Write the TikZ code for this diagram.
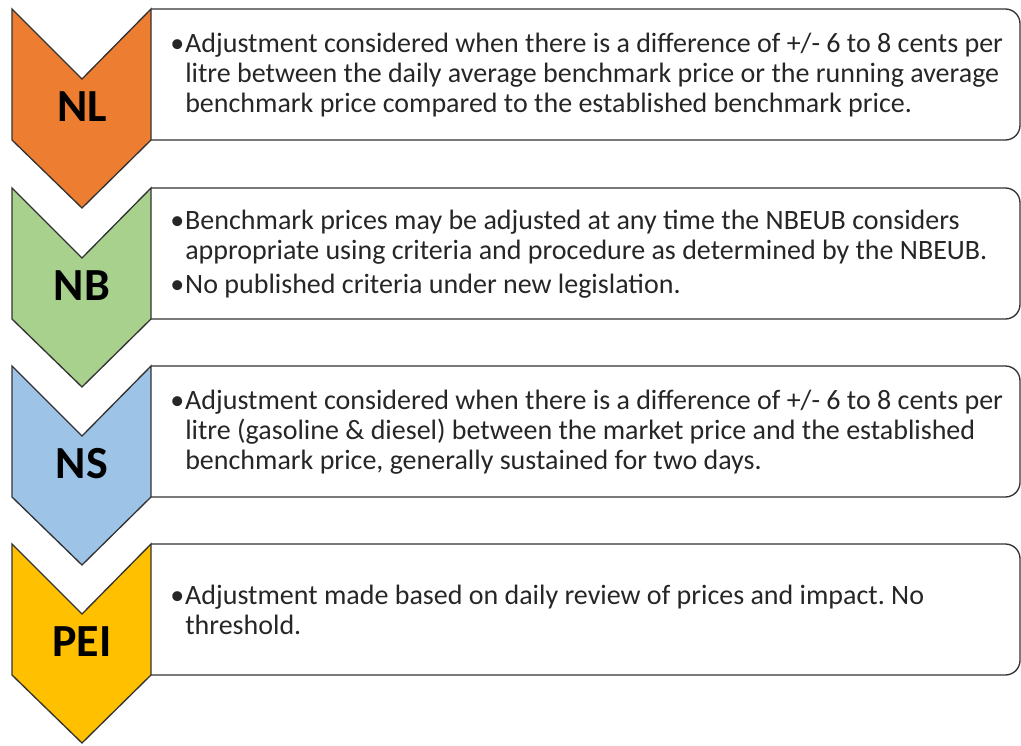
\documentclass[tikz,border=0pt]{standalone}
\usepackage{fontspec}
\setmainfont{Carlito}
\frenchspacing
\definecolor{nlorange}{HTML}{ED7D31}
\definecolor{nbgreen}{HTML}{A9D18E}
\definecolor{nsblue}{HTML}{9DC3E6}
\definecolor{peigold}{HTML}{FFC000}
\newcommand{\bul}{\makebox[10.5pt][l]{\hspace{-0.75pt}\textbullet}}
\newcommand{\ind}{\hspace*{10.5pt}}
\tikzset{
	chev/.style={draw=black!80, line width=1pt, line join=miter},
	infobox/.style={draw=black!80, line width=1pt, rounded corners=11pt},
	lbl/.style={font=\bfseries\fontsize{34.5}{40}\selectfont, text=black},
	txt/.style={anchor=west, align=left, inner sep=0pt, text=black!85,
		font=\fontsize{21}{22.5}\selectfont}
}
\begin{document}
\begin{tikzpicture}[x=0.75pt, y=-0.75pt]
	\useasboundingbox (0,0) rectangle (1021,746);
	% NL
	\draw[chev, fill=nlorange] (12,9) -- (82,79) -- (151,9) -- (151,140) -- (82,208) -- (12,140) -- cycle;
	\draw[infobox] (151,9) -- (1020,9) -- (1020,140) -- (151,140);
	\node (NL) at (82,107) [lbl] {NL};
	\node (NLtext) at (171,75) [txt] {\bul Adjustment considered when there is a difference of +/- 6 to 8 cents per\\
		\ind litre between the daily average benchmark price or the running average\\
		\ind benchmark price compared to the established benchmark price.};
	% NB
	\draw[chev, fill=nbgreen] (12,188) -- (82,258) -- (151,188) -- (151,319) -- (82,387) -- (12,319) -- cycle;
	\draw[infobox] (151,188) -- (1020,188) -- (1020,319) -- (151,319);
	\node (NB) at (82,286) [lbl] {NB};
	\node (NBtext) at (171,254) [txt] {\bul Benchmark prices may be adjusted at any time the NBEUB considers\\
		\ind appropriate using criteria and procedure as determined by the NBEUB.\\[3pt]
		\bul No published criteria under new legislation.};
	% NS
	\draw[chev, fill=nsblue] (12,366) -- (82,436) -- (151,366) -- (151,497) -- (82,565) -- (12,497) -- cycle;
	\draw[infobox] (151,366) -- (1020,366) -- (1020,497) -- (151,497);
	\node (NS) at (82,464) [lbl] {NS};
	\node (NStext) at (171,432) [txt] {\bul Adjustment considered when there is a difference of +/- 6 to 8 cents per\\
		\ind litre (gasoline \& diesel) between the market price and the established\\
		\ind benchmark price, generally sustained for two days.};
	% PEI
	\draw[chev, fill=peigold] (12,544) -- (82,614) -- (151,544) -- (151,675) -- (82,743) -- (12,675) -- cycle;
	\draw[infobox] (151,544) -- (1020,544) -- (1020,675) -- (151,675);
	\node (PEI) at (82,642) [lbl] {PEI};
	\node (PEItext) at (171,610) [txt] {\bul Adjustment made based on daily review of prices and impact. No\\
		\ind threshold.};
\end{tikzpicture}
\end{document}
